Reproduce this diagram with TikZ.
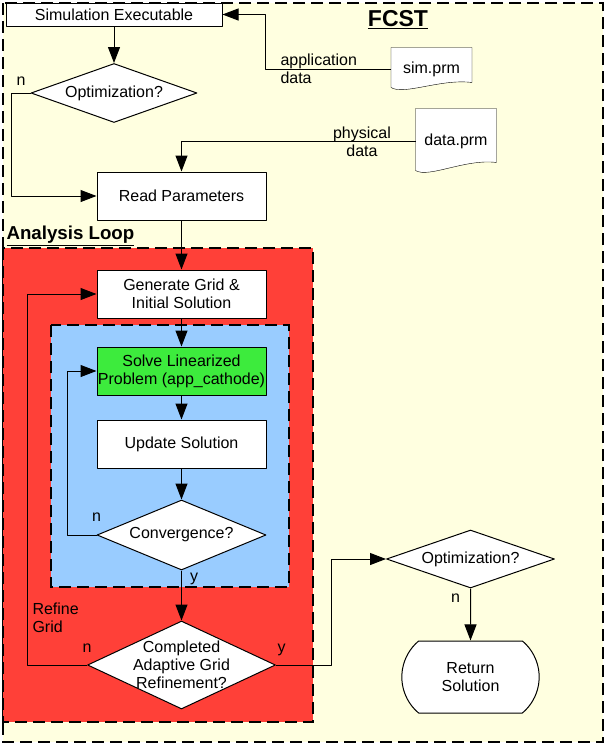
\documentclass[tikz,border=0pt]{standalone}
\usepackage{fontspec}
\setmainfont{Liberation Sans}
\usetikzlibrary{shapes.geometric,shapes.misc,arrows.meta,positioning,calc,backgrounds}
\definecolor{fcstyellow}{RGB}{255,255,224}
\definecolor{loopred}{RGB}{255,64,56}
\definecolor{loopblue}{RGB}{153,204,255}
\definecolor{solvegreen}{RGB}{61,235,61}
\tikzset{
	proc/.style={draw, fill=white, rectangle, minimum width=169pt, minimum height=48pt, inner sep=0pt, align=center},
	decision/.style={draw, fill=white, diamond, inner sep=0pt, align=center},
	doc/.style={rectangle, minimum width=80pt, inner sep=0pt},
	lbl/.style={inner sep=1pt, align=center},
	region/.style={draw, line width=1.2pt, dash pattern=on 12pt off 6pt},
}
\begin{document}
\begin{tikzpicture}[x=1pt, y=-1pt, line join=round, line width=1pt, font=\fontsize{16}{18}\selectfont, >={Triangle[length=16pt,width=12pt]}]
	\useasboundingbox (0,0) rectangle (606,745);
	\node[font=\fontsize{23}{26}\selectfont\bfseries] (fcst) at (398,20) {\underline{FCST}};
	\node[font=\fontsize{18.7}{22}\selectfont\bfseries, anchor=west, inner sep=0pt] (loop) at (6,236) {\underline{Analysis Loop}};
	\node[proc, minimum width=216pt, minimum height=23pt] (sim) at (114,14.5) {Simulation Executable};
	\node[decision, shape aspect=2.81, minimum width=166pt, minimum height=59pt] (opt1) at (114,93) {Optimization?};
	\node[doc, minimum height=42pt] (simprm) at (431.5,69) {sim.prm};
	\node[doc, minimum height=64pt] (datap) at (456,141) {data.prm};
	\node[proc] (read) at (181.5,196) {Read Parameters};
	\node[proc] (gen) at (181.5,294) {Generate Grid \&\\Initial Solution};
	\node[proc, fill=solvegreen] (solve) at (181.5,371) {Solve Linearized\\Problem (app\_cathode)};
	\node[proc] (upd) at (181.5,444) {Update Solution};
	\node[decision, shape aspect=2.41, minimum width=169pt, minimum height=70pt] (conv) at (181.5,535) {Convergence?};
	\node[decision, shape aspect=2.14, inner xsep=-6pt, minimum width=188pt, minimum height=88pt] (comp) at (181.5,665) {Completed\\Adaptive Grid\\Refinement?};
	\node[decision, shape aspect=2.9, minimum width=168pt, minimum height=58pt] (opt2) at (470.5,559) {Optimization?};
	\node[draw, fill=white, rounded rectangle, rounded rectangle arc length=100, minimum width=144pt, minimum height=72pt, align=center] (ret) at (470.5,677) {Return\\Solution};
	
	\draw[->] (sim) -- (opt1);
	\foreach \a/\b in {read/gen,gen/solve,solve/upd,upd/conv,conv/comp,opt2/ret}{
		\draw[->] (\a) -- (\b);
	};
	\draw[->] (opt1.west) -- node[lbl, above=6pt] (opt1n) {n} ++(-19,0) |- (read.west);
	\draw[->] (simprm.west) -- ++(-126,0) |- (sim.east);
	\draw[->] (datap.west) -| (read.north);
	\draw[->] (conv.west) -- ++(-29,0) |- (solve.west);
	\draw[->] (comp.west) -- ++(-60,0) |- (gen.west);
	\draw[->] (comp.east) -- ++(55,0) |- (opt2.west);
	
	\node[lbl, anchor=west, align=left] (appdata) at (279,69) {application\\data};
	\node[lbl] (physdata) at (362,142) {physical\\data};
	\node[lbl, anchor=west, align=left, inner sep=0pt] (refine) at (32,618) {Refine\\Grid};
	\node[lbl, above=12pt] (convn) at (conv.west) {n};
	\node[lbl, below right=1pt and 7pt] (convy) at (conv.south) {y};
	\node[lbl, above=11pt] (compn) at (comp.west) {n};
	\node[lbl, above right=8pt and 0pt] (compy) at (comp.east) {y};
	\node[lbl, below left=4pt and 9pt] (opt2n) at (opt2.south) {n};
	
	\begin{scope}[on background layer]
		\path[region, fill=fcstyellow] (3,3) rectangle (603,742);
		\path[region, fill=loopred] (3,248) rectangle (313,722);
		\path[region, fill=loopblue] (51,325) rectangle (289,587);
		\foreach \d/\r in {simprm/8,datap/11}{
			\draw[fill=white] (\d.north west) -- (\d.north east) -- ($(\d.south east)+(0,-\r)$) .. controls ($(\d.south east)+(-31,-\r-4)$) and ($(\d.south west)+(13,5)$) .. ($(\d.south west)+(0,-3)$) -- cycle;
		};
	\end{scope}
\end{tikzpicture}
\end{document}
